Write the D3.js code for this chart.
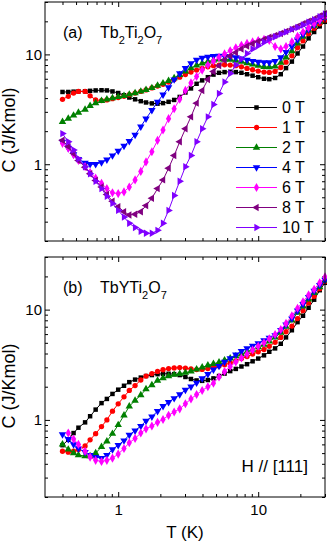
<!DOCTYPE html>
<html>
<head>
<meta charset="utf-8">
<script src="https://cdn.jsdelivr.net/npm/d3@7"></script>
<style>
  body { margin: 0; background: #fff; }
  svg { display: block; font-family: "Liberation Sans", Arial, sans-serif; }
</style>
</head>
<body>
<svg width="327" height="545"></svg>
<script>
// temperatures (K) the curves were sampled at
var temps = [0.40, 0.44, 0.48, 0.52, 0.58, 0.63, 0.69, 0.76, 0.83, 0.91,
             1.0, 1.1, 1.2, 1.32, 1.45, 1.58, 1.74, 1.91, 2.09, 2.29,
             2.51, 2.75, 3.02, 3.31, 3.63, 3.98, 4.37, 4.79, 5.25, 5.75,
             6.31, 6.92, 7.59, 8.32, 9.12, 10.0, 11.0, 12.0, 13.2, 14.5,
             15.8, 17.4, 19.1, 20.9, 22.9, 25.1, 27.5, 30.0];

// (a) Tb2Ti2O7, C in J/Kmol
var a0T = [4.55,4.55,4.58,4.6,4.62,4.66,4.7,4.72,4.7,4.6, 4.45,4.25,4.05,3.9,3.75,3.65,3.58,3.56,3.6,3.7,
           3.85,4.1,4.5,4.9,5.4,5.8,6.2,6.55,6.8,6.9, 6.95,6.9,6.8,6.6,6.4,6.2,6.0,5.95,6.1,6.6,
           7.5,8.6,10.2,11.8,14.0,16.0,18.0,19.8];
var a1T = [3.9,4.15,4.45,4.6,4.6,4.2,3.85,3.8,3.85,3.95, 4.05,4.15,4.3,4.45,4.6,4.75,4.95,5.15,5.35,5.6,
           5.9,6.2,6.55,6.9,7.2,7.45,7.7,7.9,8.0,8.05, 8.0,7.9,7.7,7.45,7.25,7.05,6.9,6.85,7.0,7.6,
           8.5,9.7,11.5,13.3,15.5,17.3,19.0,20.5];
var a2T = [2.43,2.6,2.78,2.95,3.15,3.4,3.6,3.78,3.9,4.0, 4.1,4.2,4.32,4.45,4.6,4.75,4.95,5.2,5.45,5.75,
           6.1,6.5,7.0,7.5,7.95,8.3,8.6,8.85,9.0,9.0, 8.95,8.8,8.6,8.35,8.1,7.9,7.7,7.65,7.8,8.4,
           9.4,10.7,12.6,14.5,16.6,18.3,20.0,21.5];
var a4T = [1.6,1.4,1.23,1.11,1.03,1.0,1.0,1.04,1.1,1.2, 1.32,1.47,1.62,1.85,2.2,2.6,3.1,3.7,4.3,5.0,
           5.9,6.7,7.5,8.3,8.9,9.3,9.5,9.65,9.7,9.65, 9.55,9.4,9.15,8.9,8.7,8.55,8.45,8.45,8.7,9.4,
           10.5,11.8,13.6,15.2,16.9,18.5,20.2,21.6];
var a6T = [1.55,1.4,1.22,1.08,0.95,0.84,0.75,0.67,0.6,0.55, 0.54,0.56,0.62,0.72,0.86,1.05,1.3,1.65,2.05,2.6,
           3.2,3.9,4.7,5.5,6.3,7.2,8.0,8.7,9.4,10.1, 10.8,11.5,12.1,12.6,13.0,13.4,13.7,13.4,11.8,11.2,
           11.8,13.0,14.6,16.0,17.5,19.0,20.5,22.0];
var a8T = [1.65,1.45,1.25,1.08,0.94,0.82,0.71,0.62,0.53,0.46, 0.41,0.37,0.345,0.35,0.37,0.42,0.49,0.6,0.72,0.92,
           1.2,1.6,2.1,2.7,3.6,4.7,5.9,7.0,7.9,8.9, 9.7,10.4,11.2,11.9,12.5,13.1,13.7,14.3,14.9,15.5,
           16.2,17.0,18.0,19.0,20.0,21.0,22.4,23.5];
var a10T = [1.9,1.6,1.35,1.12,0.95,0.82,0.7,0.6,0.51,0.44, 0.38,0.33,0.29,0.265,0.245,0.235,0.235,0.25,0.29,0.38,
            0.52,0.7,0.95,1.2,1.6,2.1,2.7,3.5,4.4,5.6, 6.7,8.0,9.1,10.2,11.2,12.0,12.9,13.8,14.5,15.3,
            16.0,16.9,17.6,18.5,19.6,20.7,22.0,23.3];

// (b) TbYTi2O7, C in J/Kmol
var b0T = [0.59,0.66,0.76,0.85,0.95,1.08,1.24,1.42,1.55,1.72, 1.88,2.04,2.2,2.32,2.42,2.5,2.55,2.6,2.62,2.62,
           2.6,2.55,2.45,2.35,2.28,2.26,2.3,2.38,2.5,2.63, 2.77,2.9,3.05,3.2,3.4,3.6,3.85,4.15,4.45,4.9,
           5.6,6.5,7.7,8.8,10.4,12.3,15.0,17.5];
var b1T = [0.52,0.51,0.52,0.54,0.58,0.66,0.75,0.87,1.0,1.2, 1.4,1.62,1.85,2.05,2.3,2.5,2.63,2.75,2.85,2.92,
           2.96,2.98,2.95,2.9,2.86,2.87,2.92,3.0,3.08,3.17, 3.28,3.42,3.6,3.75,3.95,4.15,4.35,4.65,5.05,5.6,
           6.3,7.1,8.3,9.8,11.5,13.2,15.5,18.0];
var b2T = [0.6,0.54,0.5,0.48,0.47,0.47,0.5,0.57,0.64,0.75, 0.9,1.1,1.33,1.5,1.68,1.9,2.07,2.27,2.4,2.5,
           2.57,2.62,2.68,2.76,2.88,3.0,3.12,3.22,3.33,3.48, 3.62,3.78,3.95,4.15,4.35,4.58,4.82,5.15,5.6,6.2,
           7.0,8.0,9.4,10.7,12.4,14.2,16.0,18.3];
var b4T = [0.74,0.67,0.6,0.55,0.51,0.48,0.46,0.45,0.48,0.54, 0.59,0.65,0.73,0.8,0.88,0.98,1.07,1.2,1.33,1.45,
           1.57,1.7,1.87,2.0,2.17,2.38,2.6,2.85,3.08,3.35, 3.62,3.9,4.2,4.45,4.7,4.95,5.25,5.55,5.85,6.5,
           7.3,8.3,9.8,11.2,13.0,14.8,16.7,18.6];
var b6T = [null,0.76,0.67,0.6,0.52,0.46,0.43,0.42,0.43,0.45, 0.49,0.55,0.62,0.68,0.76,0.83,0.88,0.95,1.01,1.1,
           1.18,1.26,1.4,1.55,1.7,1.85,2.0,2.15,2.45,2.75, 3.05,3.35,3.65,3.95,4.3,4.65,5.0,5.45,5.95,6.6,
           7.5,8.8,10.3,11.8,13.6,15.3,17.5,19.8];

var fieldLabels = ["0 T", "1 T", "2 T", "4 T", "6 T", "8 T", "10 T"];

var xMajor = [1, 10];
var xMinor = [0.4, 0.5, 0.6, 0.7, 0.8, 0.9, 2, 3, 4, 5, 6, 7, 8, 9, 20, 30];
var yMajor = [1, 10];
var yMinor = [0.2, 0.3, 0.4, 0.5, 0.6, 0.7, 0.8, 0.9, 2, 3, 4, 5, 6, 7, 8, 9, 20, 30];

// marker look for each field
var styles = [
    {color: "#000000", shape: d3.symbolSquare,   rot: 0,   size: 20},
    {color: "#ff0000", shape: d3.symbolCircle,   rot: 0,   size: 22},
    {color: "#008000", shape: d3.symbolTriangle, rot: 0,   size: 24},
    {color: "#0000ff", shape: d3.symbolTriangle, rot: 180, size: 24},
    {color: "#ff00ff", shape: d3.symbolDiamond,  rot: 0,   size: 24},
    {color: "#800080", shape: d3.symbolTriangle, rot: -90, size: 24},
    {color: "#8000ff", shape: d3.symbolTriangle, rot: 90,  size: 24}
];

var svg = d3.select("svg");
var left = 45, right = 325;
var x = d3.scaleLog().domain([0.3, 30]).range([left, right]);

var panels = [
    {top: 2, bottom: 241, series: [a0T, a1T, a2T, a4T, a6T, a8T, a10T], tag: "(a)",
     formula: [["Tb", 0], ["2", 1], ["Ti", 0], ["2", 1], ["O", 0], ["7", 1]], labelY: 130, xLabels: false},
    {top: 257, bottom: 497, series: [b0T, b1T, b2T, b4T, b6T], tag: "(b)",
     formula: [["TbYTi", 0], ["2", 1], ["O", 0], ["7", 1]], labelY: 386, xLabels: true}
];

function symbolPath(st) {
    return d3.symbol().type(st.shape).size(st.size)();
}

panels.forEach(function(p) {
    var y = d3.scaleLog().domain([0.2, 30]).range([p.bottom, p.top]);
    var g = svg.append("g");

    // ticks, all pointing inward
    function drawAxis(axisFn, scale, values, size, pos, labels) {
        var ax = axisFn(scale).tickValues(values).tickSize(-size).tickPadding(labels ? 7 : 3)
            .tickFormat(labels ? d3.format("d") : "");
        var ag = g.append("g").attr("transform", pos).call(ax);
        ag.select(".domain").remove();
        ag.selectAll("line").attr("stroke", "#000");
        ag.selectAll("text").attr("font-size", 15).attr("fill", "#000")
            .attr("font-family", "\"Liberation Sans\", Arial, sans-serif");
        return ag;
    }
    drawAxis(d3.axisBottom, x, xMajor, 5, "translate(0," + p.bottom + ")", p.xLabels);
    drawAxis(d3.axisBottom, x, xMinor, 3, "translate(0," + p.bottom + ")", false);
    drawAxis(d3.axisTop, x, xMajor, 5, "translate(0," + p.top + ")", false);
    drawAxis(d3.axisTop, x, xMinor, 3, "translate(0," + p.top + ")", false);
    var la = drawAxis(d3.axisLeft, y, yMajor, 5, "translate(" + left + ",0)", true);
    la.selectAll("text").attr("x", -3);
    drawAxis(d3.axisLeft, y, yMinor, 3, "translate(" + left + ",0)", false);
    drawAxis(d3.axisRight, y, yMajor, 5, "translate(" + right + ",0)", false);
    drawAxis(d3.axisRight, y, yMinor, 3, "translate(" + right + ",0)", false);

    // curves
    p.series.forEach(function(vals, i) {
        var st = styles[i];
        var pts = temps.map(function(t, k) { return [t, vals[k]]; })
            .filter(function(d) { return d[1] != null; });
        g.append("path")
            .datum(pts)
            .attr("fill", "none")
            .attr("stroke", st.color)
            .attr("stroke-width", 1)
            .attr("d", d3.line().x(function(d) { return x(d[0]); }).y(function(d) { return y(d[1]); }));
        g.selectAll(null)
            .data(pts)
            .enter().append("path")
            .attr("d", symbolPath(st))
            .attr("fill", st.color)
            .attr("transform", function(d) {
                return "translate(" + x(d[0]) + "," + y(d[1]) + ") rotate(" + st.rot + ")";
            });
    });

    // frame
    g.append("rect")
        .attr("x", left).attr("y", p.top)
        .attr("width", right - left).attr("height", p.bottom - p.top)
        .attr("fill", "none").attr("stroke", "#000").attr("stroke-width", 1);

    // panel title
    g.append("text").attr("x", 63).attr("y", p.top + 36).attr("font-size", 16).text(p.tag);
    var ft = g.append("text").attr("x", 100).attr("y", p.top + 36).attr("font-size", 16);
    var prev = 0;
    p.formula.forEach(function(part) {
        var sub = part[1];
        ft.append("tspan")
            .attr("dy", (sub - prev) * 6)
            .attr("font-size", sub ? 11 : 16)
            .text(part[0]);
        prev = sub;
    });

    // y axis title
    g.append("text")
        .attr("transform", "translate(15," + p.labelY + ") rotate(-90)")
        .attr("text-anchor", "middle")
        .attr("font-size", 18)
        .text("C (J/Kmol)");
});

// legend in panel (a)
var leg = svg.append("g");
fieldLabels.forEach(function(lab, i) {
    var st = styles[i];
    var ly = 107.5 + i * 20;
    leg.append("line").attr("x1", 236).attr("x2", 277).attr("y1", ly).attr("y2", ly)
        .attr("stroke", st.color).attr("stroke-width", 1);
    leg.append("path").attr("d", symbolPath(st)).attr("fill", st.color)
        .attr("transform", "translate(256.5," + ly + ") rotate(" + st.rot + ")");
    leg.append("text").attr("x", 282).attr("y", ly).attr("dy", "0.36em")
        .attr("font-size", 16).text(lab);
});

svg.append("text").attr("x", 308).attr("y", 472).attr("text-anchor", "end")
    .attr("font-size", 17).text("H // [111]");

svg.append("text").attr("x", 185).attr("y", 538).attr("text-anchor", "middle")
    .attr("font-size", 17).text("T (K)");
</script>
</body>
</html>
